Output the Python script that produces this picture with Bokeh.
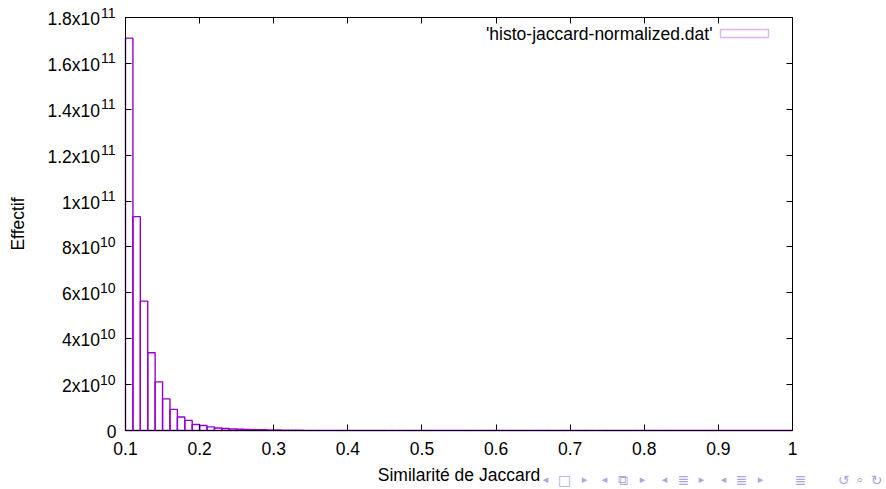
import numpy as np
from bokeh.plotting import figure
from bokeh.models import (Range1d, FixedTicker, LinearAxis, BoxAnnotation,
                          ColumnDataSource, CustomJSTickFormatter)
from bokeh.core.properties import value
from bokeh.embed import file_html
from bokeh.resources import INLINE

# ---------------- data ----------------
bin_start = 0.10
bin_width = 0.01
# histogram counts (in units of 1e9), one per 0.01-wide bin from 0.10 to 1.00
counts_e9 = [
    171.0, 93.2, 56.4, 33.9, 21.2, 13.8, 9.2, 5.9, 4.4, 2.6,
    2.2, 1.6, 1.1, 0.9, 0.7, 0.6, 0.45, 0.38, 0.30, 0.24,
    0.19, 0.15, 0.12, 0.095, 0.075, 0.060, 0.048, 0.038, 0.030, 0.024,
    0.019, 0.015, 0.012, 0.010, 0.008, 0.0065, 0.0052, 0.0042, 0.0034, 0.0027,
    0.0022, 0.0018, 0.0014, 0.0011, 0.0009, 0.0007, 0.0006, 0.0005, 0.0004, 0.0003,
    0.00025, 0.0002, 0.00017, 0.00014, 0.00012, 0.0001, 0.00008, 0.00007, 0.00006, 0.00005,
    0.00004, 0.000035, 0.00003, 0.000025, 0.00002, 0.000018, 0.000015, 0.000013, 0.000011, 0.00001,
    0.000009, 0.000008, 0.000007, 0.000006, 0.000005, 0.0000045, 0.000004, 0.0000035, 0.000003, 0.0000025,
    0.000002, 0.0000018, 0.0000016, 0.0000014, 0.0000012, 0.000001, 0.0000009, 0.0000008, 0.0000007, 0.0000006,
]
x_ticks = [0.1, 0.2, 0.3, 0.4, 0.5, 0.6, 0.7, 0.8, 0.9, 1.0]
x_tick_labels = ["0.1", "0.2", "0.3", "0.4", "0.5", "0.6", "0.7", "0.8", "0.9", "1"]
y_ticks = [0, 2e10, 4e10, 6e10, 8e10, 1e11, 1.2e11, 1.4e11, 1.6e11, 1.8e11]
y_tick_mantissa = ["0", "2x10", "4x10", "6x10", "8x10", "1x10", "1.2x10", "1.4x10", "1.6x10", "1.8x10"]
y_tick_exponent = ["", "10", "10", "10", "10", "11", "11", "11", "11", "11"]
series_name = "'histo-jaccard-normalized.dat'"
x_title = "Similarité de Jaccard"
y_title = "Effectif"
nav_symbols = ["◂", "□", "▸", "◂", "⧉", "▸", "◂", "≣", "▸", "◂", "≣", "▸", "≣", "↺", "⌕", "↻"]
nav_px = [545, 564, 584, 604, 622, 642, 664, 683, 701, 723, 741, 760, 800, 843, 859, 876]
nav_size = ["11px", "14px", "11px", "11px", "14px", "11px", "11px", "14px", "11px",
            "11px", "14px", "11px", "14px", "14px", "13px", "14px"]

# ---------------- geometry / style ----------------
FONT = "Liberation Sans"
FS = "17.5px"
SUP_FS = "14px"
PURPLE = "#9400d3"
W, H = 886, 489
X0, X1 = 0.1, 1.0           # data limits of the plotting box
Y0, Y1 = 0.0, 1.8e11
BOX_L, BOX_R, BOX_T, BOX_B = 125, 792, 17, 430  # pixel position of the plotting box

# the Bokeh frame covers the whole canvas; ranges chosen so the box lands where wanted
xs = (X1 - X0) / (BOX_R - BOX_L)
ys = (Y1 - Y0) / (BOX_B - BOX_T)
x_range = Range1d(X0 - BOX_L * xs, X1 + (W - BOX_R) * xs)
y_range = Range1d(Y0 - (H - BOX_B) * ys, Y1 + BOX_T * ys)

counts = np.array(counts_e9) * 1e9
left = np.round(bin_start + bin_width * np.arange(len(counts)), 4)
src = ColumnDataSource(dict(left=left, right=left + bin_width, top=counts))

p = figure(width=W, height=H, output_backend="svg", toolbar_location=None,
           x_range=x_range, y_range=y_range,
           min_border=0, min_border_left=0, min_border_right=0,
           min_border_top=0, min_border_bottom=0)
p.background_fill_color = "white"
p.border_fill_color = "white"
p.outline_line_color = None
p.xgrid.visible = False
p.ygrid.visible = False

p.quad(left="left", right="right", top="top", bottom=0, source=src,
       fill_color=None, line_color=PURPLE, line_width=1.4)

empty = CustomJSTickFormatter(code="return ''")

def box_axis(ax, ticks, bounds, loc):
    ax.ticker = FixedTicker(ticks=ticks)
    ax.formatter = empty
    ax.bounds = bounds
    ax.fixed_location = loc
    ax.major_tick_in = 6
    ax.major_tick_out = 0
    ax.minor_tick_in = 0
    ax.minor_tick_out = 0
    ax.minor_tick_line_color = None
    ax.major_label_standoff = 0
    ax.axis_line_color = "black"
    ax.axis_line_width = 1
    ax.major_tick_line_color = "black"

box_axis(p.xaxis[0], x_ticks, (X0, X1), Y0)
box_axis(p.yaxis[0], y_ticks, (Y0, Y1), X0)
top_ax = LinearAxis()
right_ax = LinearAxis()
box_axis(top_ax, x_ticks, (X0, X1), Y1)
box_axis(right_ax, y_ticks, (Y0, Y1), X1)
p.add_layout(top_ax, "above")
p.add_layout(right_ax, "right")

txt = dict(text_font=value(FONT), text_color="black")

# x tick labels
p.text(x=x_ticks, y=[Y0] * len(x_ticks), text=x_tick_labels, y_offset=18,
       text_align="center", text_baseline="middle", text_font_size=FS, **txt)

# y tick labels: mantissa + raised exponent
SUP_RIGHT = -10
SUP_W = 15.5
has_exp = [e != "" for e in y_tick_exponent]
yv_exp = [v for v, h in zip(y_ticks, has_exp) if h]
p.text(x=[X0] * len(yv_exp), y=yv_exp,
       text=[m for m, h in zip(y_tick_mantissa, has_exp) if h],
       x_offset=SUP_RIGHT - SUP_W, y_offset=1.5,
       text_align="right", text_baseline="middle", text_font_size=FS, **txt)
p.text(x=[X0] * len(yv_exp), y=yv_exp,
       text=[e for e in y_tick_exponent if e],
       x_offset=SUP_RIGHT, y_offset=-5,
       text_align="right", text_baseline="middle", text_font_size=SUP_FS, **txt)
p.text(x=[X0] * (len(y_ticks) - len(yv_exp)), y=[v for v, h in zip(y_ticks, has_exp) if not h],
       text=[m for m, h in zip(y_tick_mantissa, has_exp) if not h],
       x_offset=SUP_RIGHT + 1, y_offset=0.5,
       text_align="right", text_baseline="middle", text_font_size=FS, **txt)

# axis titles
p.text(x=[(X0 + X1) / 2], y=[Y0], text=[x_title], y_offset=474 - BOX_B,
       text_align="center", text_baseline="middle", text_font_size=FS, **txt)
p.text(x=[X0], y=[(Y0 + Y1) / 2], text=[y_title], x_offset=17 - BOX_L, angle=np.pi / 2,
       text_align="center", text_baseline="middle", text_font_size=FS, **txt)

# legend (text then key box, gnuplot style)
p.text(x=[X1], y=[Y1], text=[series_name], x_offset=712 - BOX_R, y_offset=33 - BOX_T,
       text_align="right", text_baseline="middle", text_font_size=FS, **txt)
p.add_layout(BoxAnnotation(left=X0 + (720 - BOX_L) * xs, right=X0 + (768 - BOX_L) * xs,
                           top=Y1 - (29 - BOX_T) * ys, bottom=Y1 - (37 - BOX_T) * ys,
                           fill_color=None, fill_alpha=0, line_color=PURPLE, line_width=1.4))

# beamer navigation symbols
nav_src = ColumnDataSource(dict(x=[X0] * len(nav_px), y=[Y0] * len(nav_px), text=nav_symbols,
                                xo=[px - BOX_L for px in nav_px], fs=nav_size))
p.text(x="x", y="y", text="text", x_offset="xo", y_offset=479 - BOX_B, source=nav_src,
       text_align="center", text_baseline="middle", text_font=value("DejaVu Sans"),
       text_font_size="fs", text_color="#a9a9d8")

open("out.html", "w").write(file_html(p, INLINE))
